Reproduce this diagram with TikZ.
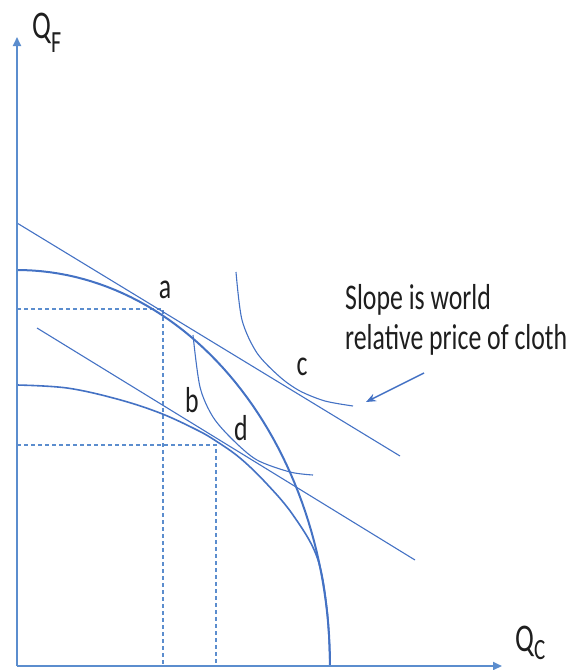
\documentclass[tikz,border=0pt]{standalone}
\usepackage{fontspec}
\setmainfont{Carlito}
\usepackage{graphicx}
\usetikzlibrary{arrows.meta, positioning}

\definecolor{axisblue}{RGB}{91,141,206}
\definecolor{curveblue}{RGB}{68,114,196}
\definecolor{inkgrey}{RGB}{30,30,30}

% text in the reference is drawn taller than wide
\newcommand{\tallbox}[1]{\scalebox{1}[1.4]{#1}}

\begin{document}
\begin{tikzpicture}[x=1pt, y=-1pt, >=Stealth,
    axisline/.style={draw=axisblue, line width=2pt, -{Triangle[length=9pt, width=8pt]}},
    guide/.style={draw=axisblue, line width=1.2pt, dash pattern=on 4pt off 3pt},
    budget/.style={draw=curveblue, line width=1.1pt},
    ppf/.style={draw=curveblue, line width=2pt},
    indiff/.style={draw=curveblue, line width=1.1pt},
    lbl/.style={font=\fontsize{25.8}{28.6}\selectfont, text=inkgrey, inner sep=0pt}]

    \useasboundingbox (0,0) rectangle (571,670);

    % --- Axes ---
    \coordinate (O) at (17,666);
    \coordinate (ytip) at (17,37);
    \coordinate (xtip) at (502,666);

    % --- Tangency points (production) ---
    \coordinate (pa) at (163,309);
    \coordinate (pd) at (216,445);

    % Dashed guides down to the axes
    \draw[guide] (O |- pa) -- (pa) -- (pa |- O);
    \draw[guide] (O |- pd) -- (pd) -- (pd |- O);

    % --- World price lines (same slope) ---
    \draw[budget] (17,223) -- (400,456);
    \draw[budget] (37,328) -- (415,560);

    % --- Indifference curves ---
    \draw[indiff] plot[smooth] coordinates {(236,272) (242,320) (257,353) (280,377) (300,391) (325,401) (353,406)};
    \draw[indiff] plot[smooth] coordinates {(193,335) (200,387) (213,417) (233,440) (257,460) (290,472) (313,475)};

    % --- Production possibility frontiers ---
    % Outer one: quarter ellipse
    \draw[ppf] plot[domain=0:90, samples=60] ({17+313*sin(\x)}, {666-396*cos(\x)});
    % Inner one joins the outer near the cloth axis
    \draw[ppf, line width=1.6pt] plot[smooth, tension=0.6] coordinates {(17,385) (67,388) (117,399) (160,413) (197,430) (216,441) (240,458) (266,483) (293,515) (317,557) (327,610) (330,666)};

    % Axes on top
    \draw[axisline] (O) -- (ytip);
    \draw[axisline] (O) -- (xtip);

    % --- Labels ---
    \node[lbl, anchor=base west, font=\fontsize{28}{30}\selectfont] (qf) at (32,38)
      {\tallbox{Q\raisebox{-10pt}{\fontsize{22}{22}\selectfont F}}};
    \node[lbl, anchor=base west, font=\fontsize{28}{30}\selectfont] (qc) at (515,651)
      {\tallbox{Q\raisebox{-6pt}{\fontsize{21}{21}\selectfont C}}};

    \node[lbl, anchor=base] (la) at (165,298) {\tallbox{a}};
    \node[lbl, anchor=base] (lb) at (192,412) {\tallbox{b}};
    \node[lbl, anchor=base] (lc) at (302,375) {\tallbox{c}};
    \node[lbl, anchor=base] (ld) at (241,440) {\tallbox{d}};

    \node[lbl, anchor=base west] (note) at (345,309)
      {\tallbox{\begin{tabular}[t]{@{}l@{}}Slope is world\\relative price of cloth\end{tabular}}};

    % Pointer to the upper price line
    \coordinate (notetail) at (424,373);
    \coordinate (notetip) at (366,402);
    \draw[curveblue, line width=1.5pt, -{Stealth[length=10pt, width=8pt]}] (notetail) -- (notetip);

\end{tikzpicture}
\end{document}
